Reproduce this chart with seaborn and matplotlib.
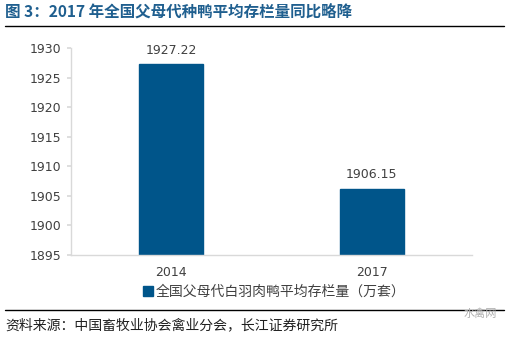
import matplotlib
matplotlib.use("Agg")
import matplotlib.pyplot as plt
import seaborn as sns
import pandas as pd
from matplotlib.lines import Line2D
from matplotlib.patches import Patch

years = ["2014", "2017"]
stock = [1927.22, 1906.15]
yticks = [1895, 1900, 1905, 1910, 1915, 1920, 1925, 1930]
series_name = "全国父母代白羽肉鸭平均存栏量（万套）"
title = "图 3：2017 年全国父母代种鸭平均存栏量同比略降"
source = "资料来源：中国畜牧业协会禽业分会，长江证券研究所"
mark = "水禽网"

sns.set_theme(style="white")
plt.rcParams["font.family"] = ["Noto Sans CJK SC", "DejaVu Sans"]

bar_color = "#00558a"
df = pd.DataFrame({"year": years, "stock": stock})

fig = plt.figure(figsize=(5.12, 3.38), dpi=100)
ax = fig.add_axes([0.139, 0.246, 0.783, 0.612])

sns.barplot(data=df, x="year", y="stock", color=bar_color, width=0.32,
            saturation=1, ax=ax, edgecolor=bar_color)
# bars start at the axis floor
for p, v in zip(ax.patches, stock):
    p.set_y(yticks[0])
    p.set_height(v - yticks[0])

ax.set_xlim(-0.5, 1.5)
ax.set_ylim(yticks[0], yticks[-1])
ax.set_yticks(yticks)
ax.set_yticklabels([str(t) for t in yticks], fontsize=9, color="#404040",
                   family="DejaVu Sans")
ax.set_xticklabels(years, fontsize=9, color="#404040", family="DejaVu Sans")
ax.set_xlabel("")
ax.set_ylabel("")
for s in ["top", "right"]:
    ax.spines[s].set_visible(False)
for s in ["left", "bottom"]:
    ax.spines[s].set_color("#d9d9d9")
    ax.spines[s].set_linewidth(1.0)
ax.tick_params(axis="y", length=3, color="#d9d9d9", pad=4, left=True)
ax.tick_params(axis="x", length=0, pad=8)

for i, v in enumerate(stock):
    ax.text(i, v + 1.3, f"{v:.2f}", ha="center", va="bottom", fontsize=9,
            color="#404040", family="DejaVu Sans")

# legend
fig.legend(handles=[Patch(color=bar_color)], labels=[series_name],
           loc="center", bbox_to_anchor=(0.535, 0.136), frameon=False,
           fontsize=10, handlelength=0.7, handleheight=0.7, handletextpad=0.2,
           labelcolor="#404040")

# header and footer
fig.text(0.01, 0.962, title, fontsize=11.2, color="#1f5f8f",
         ha="left", va="center", fontweight="bold")
fig.add_artist(Line2D([0.01, 0.984], [0.923, 0.923], color="black", lw=1.0))
fig.add_artist(Line2D([0.01, 0.984], [0.083, 0.083], color="black", lw=1.0))
fig.text(0.01, 0.038, source, fontsize=10, color="#202020",
         ha="left", va="center")
fig.text(0.97, 0.072, mark, fontsize=8, color="#b0b0b0",
         ha="right", va="center")

fig.savefig("out.png", dpi=100)
